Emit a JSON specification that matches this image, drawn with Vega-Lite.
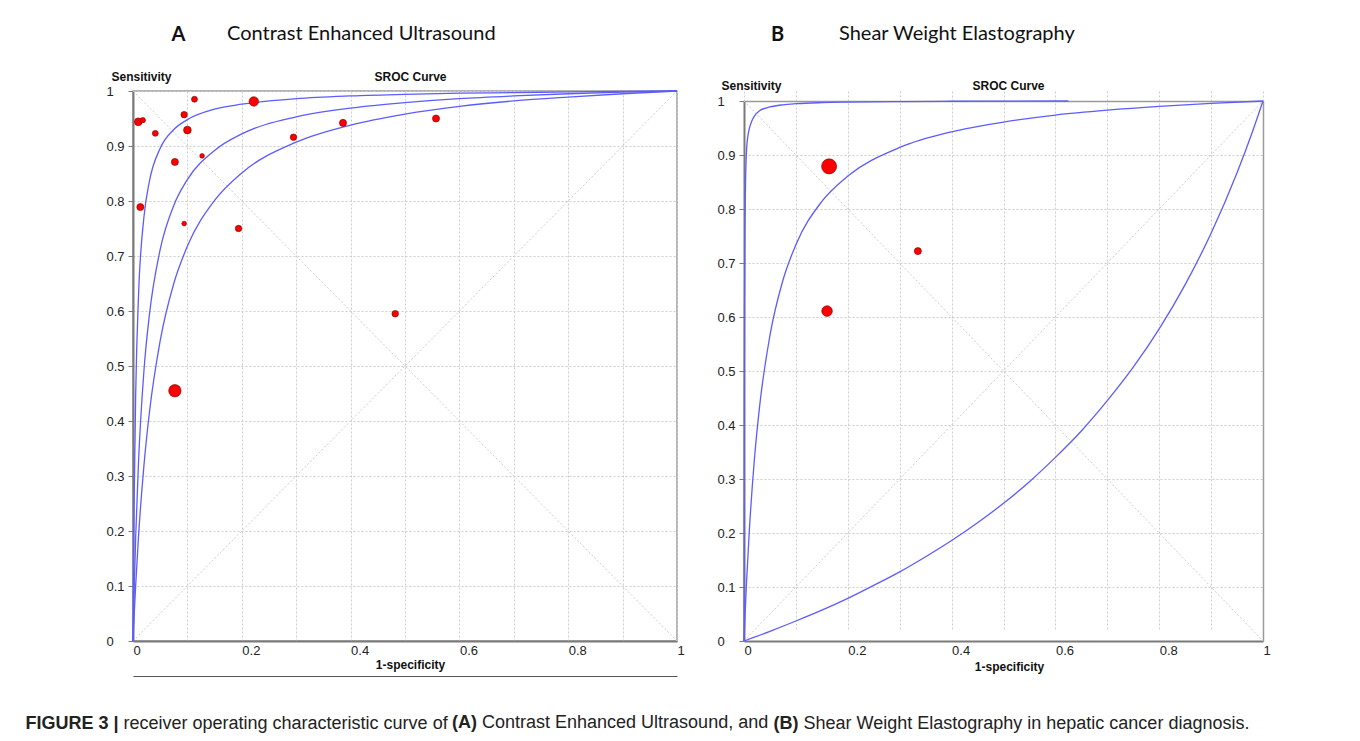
{
  "$schema": "https://vega.github.io/schema/vega-lite/v6.json",
  "background": "white",
  "padding": {"left": 24, "top": 23, "right": 5, "bottom": 5},
  "bounds": "flush",
  "spacing": 67,
  "resolve": {"scale": {"size": "independent"}, "legend": {"size": "independent"}},
  "config": {
    "view": {"stroke": "#9a9a9a", "strokeWidth": 1.5},
    "axis": {
      "labelFont": "Liberation Sans", "labelFontSize": 13, "labelColor": "#222222",
      "titleFont": "Liberation Sans", "titleFontSize": 12, "titleFontWeight": "bold", "titleColor": "#111111",
      "gridColor": "#cdcdcd", "gridDash": [2, 2], "gridWidth": 1,
      "domainColor": "#7a7a7a", "domainWidth": 2, "tickColor": "#7a7a7a"
    },
    "legend": {"titleFont": "Liberation Sans", "titleColor": "#222222", "titleFontSize": 18, "padding": 0, "titleLimit": 600}
  },
  "datasets": {
    "diag": [
      {"line": "d1", "x": 0, "y": 0}, {"line": "d1", "x": 1, "y": 1},
      {"line": "d2", "x": 0, "y": 1}, {"line": "d2", "x": 1, "y": 0}
    ],
    "pointsA": [
      {"x": 0.0097, "y": 0.944, "weight": 76},
      {"x": 0.018, "y": 0.947, "weight": 36},
      {"x": 0.041, "y": 0.923, "weight": 45},
      {"x": 0.113, "y": 0.985, "weight": 45},
      {"x": 0.094, "y": 0.957, "weight": 53},
      {"x": 0.1, "y": 0.929, "weight": 76},
      {"x": 0.077, "y": 0.871, "weight": 64},
      {"x": 0.127, "y": 0.882, "weight": 28},
      {"x": 0.0135, "y": 0.789, "weight": 64},
      {"x": 0.094, "y": 0.759, "weight": 28},
      {"x": 0.194, "y": 0.75, "weight": 53},
      {"x": 0.222, "y": 0.981, "weight": 114},
      {"x": 0.295, "y": 0.916, "weight": 53},
      {"x": 0.386, "y": 0.942, "weight": 64},
      {"x": 0.557, "y": 0.95, "weight": 64},
      {"x": 0.482, "y": 0.595, "weight": 56},
      {"x": 0.077, "y": 0.455, "weight": 196}
    ],
    "pointsB": [
      {"x": 0.164, "y": 0.879, "weight": 289},
      {"x": 0.335, "y": 0.722, "weight": 64},
      {"x": 0.16, "y": 0.611, "weight": 144}
    ],
    "curvesA": [
      {"curve": "c1", "x": 0, "y": 0}, {"curve": "c1", "x": 0.0005, "y": 0.076}, {"curve": "c1", "x": 0.001, "y": 0.141}, {"curve": "c1", "x": 0.002, "y": 0.247}, {"curve": "c1", "x": 0.005, "y": 0.452}, {"curve": "c1", "x": 0.01, "y": 0.624}, {"curve": "c1", "x": 0.02, "y": 0.77}, {"curve": "c1", "x": 0.03, "y": 0.835}, {"curve": "c1", "x": 0.05, "y": 0.896}, {"curve": "c1", "x": 0.075, "y": 0.93}, {"curve": "c1", "x": 0.1, "y": 0.948}, {"curve": "c1", "x": 0.15, "y": 0.967}, {"curve": "c1", "x": 0.2, "y": 0.976}, {"curve": "c1", "x": 0.3, "y": 0.986}, {"curve": "c1", "x": 0.4, "y": 0.991}, {"curve": "c1", "x": 0.5, "y": 0.994}, {"curve": "c1", "x": 0.6, "y": 0.996}, {"curve": "c1", "x": 0.7, "y": 0.997}, {"curve": "c1", "x": 0.8, "y": 0.9985}, {"curve": "c1", "x": 0.9, "y": 0.9993}, {"curve": "c1", "x": 1, "y": 1},
      {"curve": "c2", "x": 0, "y": 0}, {"curve": "c2", "x": 0.0005, "y": 0.023}, {"curve": "c2", "x": 0.001, "y": 0.045}, {"curve": "c2", "x": 0.002, "y": 0.086}, {"curve": "c2", "x": 0.005, "y": 0.191}, {"curve": "c2", "x": 0.01, "y": 0.322}, {"curve": "c2", "x": 0.02, "y": 0.49}, {"curve": "c2", "x": 0.03, "y": 0.592}, {"curve": "c2", "x": 0.05, "y": 0.712}, {"curve": "c2", "x": 0.075, "y": 0.792}, {"curve": "c2", "x": 0.1, "y": 0.839}, {"curve": "c2", "x": 0.15, "y": 0.892}, {"curve": "c2", "x": 0.2, "y": 0.922}, {"curve": "c2", "x": 0.3, "y": 0.953}, {"curve": "c2", "x": 0.4, "y": 0.969}, {"curve": "c2", "x": 0.5, "y": 0.979}, {"curve": "c2", "x": 0.6, "y": 0.986}, {"curve": "c2", "x": 0.7, "y": 0.991}, {"curve": "c2", "x": 0.8, "y": 0.995}, {"curve": "c2", "x": 0.9, "y": 0.998}, {"curve": "c2", "x": 1, "y": 1},
      {"curve": "c3", "x": 0, "y": 0}, {"curve": "c3", "x": 0.0005, "y": 0.011}, {"curve": "c3", "x": 0.001, "y": 0.022}, {"curve": "c3", "x": 0.002, "y": 0.044}, {"curve": "c3", "x": 0.005, "y": 0.103}, {"curve": "c3", "x": 0.01, "y": 0.188}, {"curve": "c3", "x": 0.02, "y": 0.318}, {"curve": "c3", "x": 0.03, "y": 0.414}, {"curve": "c3", "x": 0.05, "y": 0.546}, {"curve": "c3", "x": 0.075, "y": 0.65}, {"curve": "c3", "x": 0.1, "y": 0.718}, {"curve": "c3", "x": 0.15, "y": 0.801}, {"curve": "c3", "x": 0.2, "y": 0.851}, {"curve": "c3", "x": 0.3, "y": 0.907}, {"curve": "c3", "x": 0.4, "y": 0.938}, {"curve": "c3", "x": 0.5, "y": 0.958}, {"curve": "c3", "x": 0.6, "y": 0.972}, {"curve": "c3", "x": 0.7, "y": 0.982}, {"curve": "c3", "x": 0.8, "y": 0.989}, {"curve": "c3", "x": 0.9, "y": 0.995}, {"curve": "c3", "x": 1, "y": 1}
    ],
    "curvesB": [
      {"curve": "b1", "x": 0, "y": 0}, {"curve": "b1", "x": 0.0002, "y": 0.25}, {"curve": "b1", "x": 0.0005, "y": 0.45}, {"curve": "b1", "x": 0.001, "y": 0.63}, {"curve": "b1", "x": 0.002, "y": 0.78}, {"curve": "b1", "x": 0.003, "y": 0.85}, {"curve": "b1", "x": 0.005, "y": 0.91}, {"curve": "b1", "x": 0.0075, "y": 0.935}, {"curve": "b1", "x": 0.01, "y": 0.948}, {"curve": "b1", "x": 0.015, "y": 0.963}, {"curve": "b1", "x": 0.02, "y": 0.972}, {"curve": "b1", "x": 0.03, "y": 0.982}, {"curve": "b1", "x": 0.05, "y": 0.989}, {"curve": "b1", "x": 0.075, "y": 0.993}, {"curve": "b1", "x": 0.1, "y": 0.995}, {"curve": "b1", "x": 0.15, "y": 0.997}, {"curve": "b1", "x": 0.2, "y": 0.998}, {"curve": "b1", "x": 0.3, "y": 0.999}, {"curve": "b1", "x": 0.4, "y": 0.9995}, {"curve": "b1", "x": 0.625, "y": 1},
      {"curve": "b2", "x": 0, "y": 0}, {"curve": "b2", "x": 0.0005, "y": 0.012}, {"curve": "b2", "x": 0.001, "y": 0.024}, {"curve": "b2", "x": 0.002, "y": 0.047}, {"curve": "b2", "x": 0.005, "y": 0.111}, {"curve": "b2", "x": 0.01, "y": 0.2}, {"curve": "b2", "x": 0.02, "y": 0.336}, {"curve": "b2", "x": 0.03, "y": 0.434}, {"curve": "b2", "x": 0.05, "y": 0.566}, {"curve": "b2", "x": 0.075, "y": 0.668}, {"curve": "b2", "x": 0.1, "y": 0.734}, {"curve": "b2", "x": 0.15, "y": 0.814}, {"curve": "b2", "x": 0.2, "y": 0.861}, {"curve": "b2", "x": 0.3, "y": 0.914}, {"curve": "b2", "x": 0.4, "y": 0.943}, {"curve": "b2", "x": 0.5, "y": 0.961}, {"curve": "b2", "x": 0.6, "y": 0.974}, {"curve": "b2", "x": 0.7, "y": 0.983}, {"curve": "b2", "x": 0.8, "y": 0.99}, {"curve": "b2", "x": 0.9, "y": 0.9955}, {"curve": "b2", "x": 1, "y": 1},
      {"curve": "b3", "x": 0, "y": 0}, {"curve": "b3", "x": 0.02, "y": 0.007}, {"curve": "b3", "x": 0.05, "y": 0.018}, {"curve": "b3", "x": 0.1, "y": 0.037}, {"curve": "b3", "x": 0.15, "y": 0.057}, {"curve": "b3", "x": 0.2, "y": 0.079}, {"curve": "b3", "x": 0.25, "y": 0.103}, {"curve": "b3", "x": 0.3, "y": 0.128}, {"curve": "b3", "x": 0.35, "y": 0.156}, {"curve": "b3", "x": 0.4, "y": 0.186}, {"curve": "b3", "x": 0.45, "y": 0.219}, {"curve": "b3", "x": 0.5, "y": 0.255}, {"curve": "b3", "x": 0.55, "y": 0.295}, {"curve": "b3", "x": 0.6, "y": 0.34}, {"curve": "b3", "x": 0.65, "y": 0.389}, {"curve": "b3", "x": 0.7, "y": 0.445}, {"curve": "b3", "x": 0.75, "y": 0.507}, {"curve": "b3", "x": 0.8, "y": 0.578}, {"curve": "b3", "x": 0.85, "y": 0.66}, {"curve": "b3", "x": 0.9, "y": 0.755}, {"curve": "b3", "x": 0.95, "y": 0.867}, {"curve": "b3", "x": 0.98, "y": 0.944}, {"curve": "b3", "x": 1, "y": 1}
    ]
  },
  "hconcat": [
    {
      "width": 544, "height": 550,
      "title": {"text": "Contrast Enhanced Ultrasound", "anchor": "start", "frame": "group", "dx": 94, "offset": -20, "font": "Lato", "fontSize": 20, "fontWeight": "normal", "color": "#111111"},
      "layer": [
        {
          "data": {"name": "diag"},
          "mark": {"type": "line", "color": "#cdcdcd", "strokeDash": [2, 2], "strokeWidth": 1},
          "encoding": {
            "x": {"field": "x", "type": "quantitative", "scale": {"domain": [0, 1], "nice": false, "zero": false},
              "axis": {"orient": "bottom", "values": [0, 0.1, 0.2, 0.3, 0.4, 0.5, 0.6, 0.7, 0.8, 0.9, 1],
                "labelExpr": "round(datum.value * 10) % 2 == 0 ? format(datum.value, '~g') : ''",
                "labelAlign": "left", "labelDx": -4, "labelPadding": 3, "ticks": false, "tickSize": 0, "labelBaseline": "top",
                "labelFlush": false, "labelOverlap": false, "grid": true,
                "title": "1-specificity", "titleX": 277, "titleY": 23, "titleAlign": "center", "titleBaseline": "middle"}},
            "y": {"field": "y", "type": "quantitative", "scale": {"domain": [0, 1], "nice": false, "zero": false},
              "axis": {"orient": "left", "values": [0, 0.1, 0.2, 0.3, 0.4, 0.5, 0.6, 0.7, 0.8, 0.9, 1], "format": "~g",
                "labelAlign": "left", "labelPadding": 22, "tickSize": 5, "ticks": true, "labelBaseline": "middle",
                "labelFlush": false, "labelOverlap": false, "grid": true,
                "title": "Sensitivity", "titleAngle": 0, "titleAlign": "left", "titleBaseline": "middle", "titleX": -22, "titleY": -15}},
            "detail": {"field": "line"}
          }
        },
        {
          "data": {"name": "curvesA"},
          "mark": {"type": "line", "color": "#5c5cff", "strokeWidth": 1.3, "interpolate": "monotone"},
          "encoding": {
            "x": {"field": "x", "type": "quantitative", "scale": {"domain": [0, 1], "nice": false, "zero": false},
              "axis": {"orient": "top", "labels": false, "ticks": false, "domain": false, "grid": false,
                "title": "SROC Curve", "titleX": 277, "titleY": -15, "titleAlign": "center", "titleBaseline": "middle"}},
            "y": {"field": "y", "type": "quantitative", "scale": {"domain": [0, 1], "nice": false, "zero": false},
              "axis": {"orient": "right", "labels": false, "ticks": false, "domain": false, "grid": false,
                "title": "A", "titleAngle": 0, "titleX": -499, "titleY": -57, "titleAlign": "center", "titleBaseline": "middle",
                "titleFont": "Lato", "titleFontSize": 20, "titleFontWeight": "bold"}},
            "detail": {"field": "curve"}
          }
        },
        {
          "data": {"name": "pointsA"},
          "mark": {"type": "circle", "color": "#ff0000", "opacity": 1, "stroke": "#700000", "strokeWidth": 0.6},
          "encoding": {
            "x": {"field": "x", "type": "quantitative", "scale": {"domain": [0, 1], "nice": false, "zero": false},
              "axis": {"orient": "bottom", "offset": 35, "labels": false, "ticks": false, "grid": false,
                "domain": true, "domainColor": "#555555", "domainWidth": 1,
                "title": "FIGURE 3 |", "titleX": -108, "titleY": 47, "titleAlign": "left", "titleBaseline": "middle",
                "titleFontSize": 18, "titleFontWeight": "bold", "titleColor": "#222222"}},
            "y": {"field": "y", "type": "quantitative", "scale": {"domain": [0, 1], "nice": false, "zero": false},
              "axis": {"orient": "left", "labels": false, "ticks": false, "grid": false, "domain": false,
                "title": "receiver operating characteristic curve of",
                "titleAngle": 0, "titleX": -10, "titleY": 632, "titleAlign": "left", "titleBaseline": "middle",
                "titleFontSize": 18, "titleFontWeight": "normal", "titleColor": "#222222", "titleLimit": 800}},
            "size": {"field": "weight", "type": "quantitative", "scale": {"domain": [0, 300], "range": [0, 235.6]},
              "legend": {"orient": "none", "legendX": 319, "legendY": 623, "title": "(A)", "titleFontWeight": "bold", "titleBaseline": "top",
                "titlePadding": 0, "values": [100], "labelExpr": "''", "symbolOpacity": 0, "symbolStrokeWidth": 0, "symbolFillColor": "transparent", "symbolStrokeColor": "transparent"}}
          }
        }
      ],
      "resolve": {"axis": {"x": "independent", "y": "independent"}}
    },
    {
      "width": 519, "height": 550,
      "view": {"stroke": null},
      "title": {"text": "Shear Weight Elastography", "anchor": "start", "frame": "group", "dx": 95, "offset": -20, "font": "Lato", "fontSize": 20, "fontWeight": "normal", "color": "#111111"},
      "layer": [
        {
          "data": {"name": "diag"},
          "mark": {"type": "line", "color": "#cdcdcd", "strokeDash": [2, 2], "strokeWidth": 1},
          "encoding": {
            "x": {"field": "x", "type": "quantitative", "scale": {"domain": [0, 1], "nice": false, "zero": false},
              "axis": {"orient": "bottom", "values": [0, 0.1, 0.2, 0.3, 0.4, 0.5, 0.6, 0.7, 0.8, 0.9, 1],
                "labelExpr": "round(datum.value * 10) % 2 == 0 ? format(datum.value, '~g') : ''",
                "labelAlign": "left", "labelDx": -4, "labelPadding": 3, "ticks": false, "tickSize": 0, "labelBaseline": "top",
                "labelFlush": false, "labelOverlap": false, "grid": true,
                "title": "1-specificity", "titleX": 265, "titleY": 25, "titleAlign": "center", "titleBaseline": "middle"}},
            "y": {"field": "y", "type": "quantitative", "scale": {"domain": [0, 1], "range": [550, 10], "nice": false, "zero": false},
              "axis": {"orient": "left", "values": [0, 0.1, 0.2, 0.3, 0.4, 0.5, 0.6, 0.7, 0.8, 0.9, 1], "format": "~g",
                "labelAlign": "left", "labelPadding": 22, "tickSize": 5, "ticks": true, "labelBaseline": "middle",
                "labelFlush": false, "labelOverlap": false, "grid": true,
                "title": "Sensitivity", "titleAngle": 0, "titleAlign": "left", "titleBaseline": "middle", "titleX": -23, "titleY": -6}},
            "detail": {"field": "line"}
          }
        },
        {
          "data": {"name": "curvesB"},
          "mark": {"type": "line", "color": "#5c5cff", "strokeWidth": 1.3, "interpolate": "monotone"},
          "encoding": {
            "x": {"field": "x", "type": "quantitative", "scale": {"domain": [0, 1], "nice": false, "zero": false},
              "axis": {"orient": "top", "offset": -10, "labels": false, "ticks": false, "grid": false,
                "domain": true, "domainColor": "#9a9a9a", "domainWidth": 1.5,
                "title": "SROC Curve", "titleX": 264, "titleY": -16, "titleAlign": "center", "titleBaseline": "middle"}},
            "y": {"field": "y", "type": "quantitative", "scale": {"domain": [0, 1], "range": [550, 10], "nice": false, "zero": false},
              "axis": {"orient": "right", "labels": false, "ticks": false, "grid": false,
                "domain": true, "domainColor": "#9a9a9a", "domainWidth": 1.5,
                "title": "B", "titleAngle": 0, "titleX": -486, "titleY": -57, "titleAlign": "center", "titleBaseline": "middle",
                "titleFont": "Lato", "titleFontSize": 20, "titleFontWeight": "bold"}},
            "detail": {"field": "curve"}
          }
        },
        {
          "data": {"name": "pointsB"},
          "mark": {"type": "circle", "color": "#ff0000", "opacity": 1, "stroke": "#700000", "strokeWidth": 0.6},
          "encoding": {
            "x": {"field": "x", "type": "quantitative", "scale": {"domain": [0, 1], "nice": false, "zero": false},
              "axis": {"orient": "bottom", "labels": false, "ticks": false, "grid": false, "domain": false,
                "title": "(B)", "titleX": 29, "titleY": 82, "titleAlign": "left", "titleBaseline": "middle",
                "titleFontSize": 18, "titleFontWeight": "bold", "titleColor": "#222222"}},
            "y": {"field": "y", "type": "quantitative", "scale": {"domain": [0, 1], "range": [550, 10], "nice": false, "zero": false},
              "axis": {"orient": "left", "labels": false, "ticks": false, "grid": false, "domain": false,
                "title": "Shear Weight Elastography in hepatic cancer diagnosis.",
                "titleAngle": 0, "titleX": 59, "titleY": 632, "titleAlign": "left", "titleBaseline": "middle",
                "titleFontSize": 18, "titleFontWeight": "normal", "titleColor": "#222222", "titleLimit": 800}},
            "size": {"field": "weight", "type": "quantitative", "scale": {"domain": [0, 300], "range": [0, 235.6]},
              "legend": {"orient": "none", "legendX": -262, "legendY": 623, "title": "Contrast Enhanced Ultrasound, and", "titleFontWeight": "normal", "titleBaseline": "top",
                "titlePadding": 0, "values": [100], "labelExpr": "''", "symbolOpacity": 0, "symbolStrokeWidth": 0, "symbolFillColor": "transparent", "symbolStrokeColor": "transparent"}}
          }
        }
      ],
      "resolve": {"axis": {"x": "independent", "y": "independent"}}
    }
  ]
}
